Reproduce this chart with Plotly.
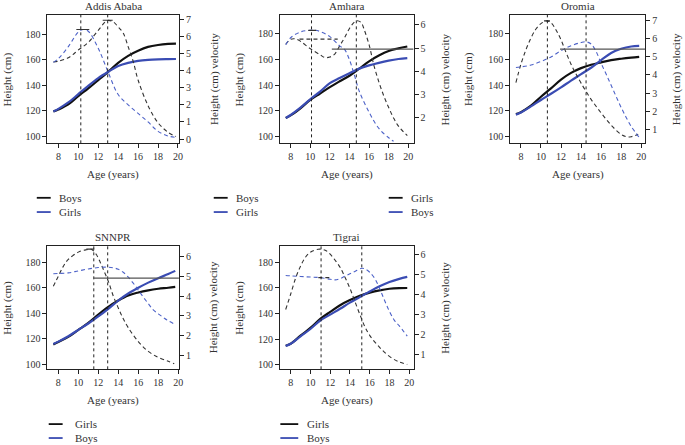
import plotly.graph_objects as go

W, H = 685, 445
FONT = "Liberation Serif"
BLACK = "#111111"
BLUE = "#3a4cb3"
BLUE_D = "#4d62c8"
GRAY_D = "#333333"
TXT = "#333333"

# ---------------- data ----------------
titles = ["Addis Ababa", "Amhara", "Oromia", "SNNPR", "Tigrai"]

# Addis Ababa (black = Boys, blue = Girls)
addis_h_age = [7.5, 8, 9, 10, 11, 12, 13, 14, 15, 16, 17, 18, 19, 19.8]
addis_black_h = [119.5, 121, 125, 131.5, 137.5, 144, 150.5, 157.5, 163, 167, 170, 171.5, 172.3, 172.5]
addis_blue_h = [119.5, 121.5, 126.5, 133, 139.5, 145.5, 150.5, 155, 157.5, 159, 159.8, 160.2, 160.4, 160.5]
addis_blue_v_age = [7.5, 8, 9, 10, 10.5, 11, 12, 13, 14, 15, 16, 17, 18, 19, 19.8]
addis_blue_v = [4.48, 4.7, 5.4, 6.25, 6.4, 6.3, 5.3, 3.9, 2.6, 2.0, 1.5, 1.0, 0.45, 0.18, 0.1]
addis_black_v_age = [7.5, 8, 9, 10, 11, 12, 12.9, 13.5, 14, 14.5, 15, 15.5, 16, 17, 18, 19, 19.8]
addis_black_v = [4.5, 4.55, 4.75, 5.2, 5.65, 6.35, 6.92, 6.85, 6.55, 6.2, 5.4, 4.55, 3.45, 1.95, 0.95, 0.4, 0.15]
addis_peaks = [10.25, 12.95]

# Amhara (black = Boys, blue = Girls)
amhara_h_age = [7.5, 8, 9, 10, 11, 12, 13, 14, 15, 16, 17, 18, 19, 19.9]
amhara_black_h = [114.5, 116.5, 122, 128.5, 133.5, 138.5, 143, 147.3, 152.8, 158.5, 163, 166.5, 168.5, 170]
amhara_blue_h = [114.5, 116.8, 122.5, 129, 135, 141.5, 145.5, 149.3, 152.8, 155.3, 157.3, 159, 160.3, 161]
amhara_blue_v_age = [7.5, 8, 9, 10, 10.5, 11, 12, 13, 13.5, 14, 14.5, 15, 16, 17, 18, 18.5]
amhara_blue_v = [5.15, 5.45, 5.7, 5.77, 5.77, 5.72, 5.5, 5.1, 4.95, 4.5, 3.85, 3.15, 2.25, 1.55, 1.15, 1.0]
amhara_black_v_age = [7.5, 8, 8.5, 9, 10, 11, 11.5, 12, 12.5, 13, 13.5, 14, 14.5, 14.8, 15.2, 15.5, 16, 16.5, 17, 17.5, 18, 18.5, 19, 19.9]
amhara_black_v = [5.17, 5.38, 5.4, 5.3, 4.98, 4.72, 4.6, 4.62, 4.75, 5.1, 5.45, 5.85, 6.12, 6.18, 6.1, 5.8, 5.15, 4.25, 3.55, 2.95, 2.45, 2.0, 1.65, 1.24]
amhara_peaks = [10.13, 14.7]

# Oromia (black = Girls, blue = Boys)
oromia_h_age = [7.5, 8, 9, 10, 11, 12, 13, 14, 15, 16, 17, 18, 19, 19.8]
oromia_black_h = [117.5, 119, 124, 131, 137.5, 144.3, 149.5, 153.2, 155.8, 157.7, 159.4, 160.5, 161.4, 162]
oromia_blue_h = [117, 118.7, 123.5, 128.5, 133.3, 138.3, 143.5, 148.5, 153.5, 159.4, 165, 168.2, 170, 170.5]
oromia_black_v_age = [7.5, 8, 8.5, 9, 9.5, 10, 10.6, 11, 11.5, 12, 12.5, 13, 13.5, 14, 15, 16, 17, 18, 18.5, 19, 19.7]
oromia_black_v = [3.58, 4.6, 5.4, 6.05, 6.55, 6.85, 7.0, 6.9, 6.5, 5.95, 5.25, 4.6, 4.05, 3.55, 2.65, 1.9, 1.22, 0.7, 0.58, 0.58, 0.72]
oromia_blue_v_age = [7.5, 8, 9, 10, 11, 12, 13, 14, 14.5, 15, 15.5, 16, 16.5, 17, 17.5, 18, 18.5, 19, 19.8]
oromia_blue_v = [4.42, 4.45, 4.55, 4.75, 5.0, 5.35, 5.62, 5.8, 5.84, 5.72, 5.3, 4.65, 4.05, 3.43, 2.81, 2.2, 1.65, 1.15, 0.54]
oromia_peaks = [10.64, 14.5]

# SNNPR (black = Girls, blue = Boys)
snnpr_h_age = [7.5, 8, 9, 10, 11, 12, 13, 14, 15, 16, 17, 18, 19, 19.7]
snnpr_black_h = [115.6, 117.5, 121.5, 127, 132.5, 139, 145, 150, 154, 156.3, 158, 159.2, 160, 160.7]
snnpr_blue_h = [116, 117.8, 122, 127, 132, 137.5, 143.5, 150, 155.5, 160, 164, 167.5, 170.7, 173.2]
snnpr_black_v_age = [7.5, 8, 8.5, 9, 10, 10.8, 11.3, 11.8, 12.2, 12.5, 13, 13.5, 14, 14.5, 15, 16, 17, 18, 19, 19.6]
snnpr_black_v = [4.49, 5.0, 5.5, 5.85, 6.22, 6.34, 6.37, 6.1, 5.7, 5.35, 4.75, 4.0, 3.4, 2.85, 2.4, 1.7, 1.2, 0.9, 0.7, 0.58]
snnpr_blue_v_age = [7.5, 8, 9, 10, 11, 12, 12.8, 13.5, 14, 14.5, 15, 15.5, 16, 16.5, 17, 17.5, 18, 18.5, 19, 19.6]
snnpr_blue_v = [5.13, 5.14, 5.17, 5.27, 5.37, 5.44, 5.46, 5.43, 5.35, 5.2, 4.95, 4.65, 4.3, 3.95, 3.62, 3.3, 3.1, 2.92, 2.75, 2.59]
snnpr_peaks = [11.55, 12.94]

# Tigrai (black = Girls, blue = Boys)
tigrai_h_age = [7.5, 8, 9, 10, 11, 12, 13, 14, 15, 16, 17, 18, 19, 19.8]
tigrai_black_h = [115, 116.5, 122.8, 128.8, 135.8, 141.3, 146.5, 150.5, 153.8, 156.3, 158.1, 159.3, 159.8, 159.9]
tigrai_blue_h = [114.7, 116.5, 122.3, 128, 134.6, 139.2, 143.7, 148.5, 152.8, 157.2, 161.3, 164.6, 167, 168.5]
tigrai_black_v_age = [7.5, 8, 8.5, 9, 9.5, 10, 10.8, 11.5, 12, 12.5, 13, 13.5, 14, 14.5, 15, 15.5, 16, 17, 18, 19, 19.8]
tigrai_black_v = [3.24, 4.0, 4.8, 5.4, 5.85, 6.1, 6.25, 6.2, 6.0, 5.7, 5.35, 4.85, 4.3, 3.65, 3.0, 2.4, 1.95, 1.35, 0.9, 0.62, 0.5]
tigrai_blue_v_age = [7.5, 8, 9, 10, 11, 12, 12.5, 13, 13.5, 14, 14.5, 15.2, 15.6, 16, 16.5, 17, 17.5, 18, 18.5, 19, 19.8]
tigrai_blue_v = [4.94, 4.92, 4.89, 4.86, 4.83, 4.75, 4.72, 4.78, 4.9, 5.02, 5.14, 5.3, 5.25, 5.1, 4.8, 4.3, 3.7, 3.15, 2.7, 2.42, 1.91]
tigrai_peaks = [11.08, 15.2]

# horizontal reference line (start age, velocity level) or None
ref_lines = [None, (12.2, 4.96), (11.9, 5.43), (11.55, 4.91), None]
# short solid segments at velocity peaks: (age from, age to, velocity)
peak_marks = [[(9.8, 11.1, 6.4), (12.45, 13.45, 6.94)], [(9.8, 10.6, 5.77)], [(10.3, 10.9, 7.0)], [(10.8, 11.6, 6.37)], []]
# short dashed segments (age from, age to, velocity)
dash_marks = [[], [(8.9, 12.8, 5.39)], [], [], [(10.8, 12.0, 4.83)]]

legend_labels = [("Boys", "Girls"), ("Boys", "Girls"), ("Girls", "Boys"), ("Girls", "Boys"), ("Girls", "Boys")]

height_ticks = [100, 120, 140, 160, 180]
age_ticks = [8, 10, 12, 14, 16, 18, 20]
vel_ticks = [[0, 1, 2, 3, 4, 5, 6, 7], [2, 3, 4, 5, 6], [1, 2, 3, 4, 5, 6, 7], [1, 2, 3, 4, 5, 6], [1, 2, 3, 4, 5, 6]]

# ---------------- layout geometry (pixels) ----------------
boxes = [(47.7, 180, 14, 143), (281.7, 416, 14, 143), (513.3, 649, 14, 143),
         (47.7, 180, 245.7, 370), (281.7, 416, 245.7, 370)]
x_ranges = [[6.9, 20.1], [6.92, 20.54], [6.94, 20.4], [6.91, 20.07], [6.93, 20.44]]
y_ranges = [[94.5, 195], [94.8, 194.5], [94.8, 194.5], [96.1, 193], [96.6, 192.9]]
v_ranges = [[-0.25, 7.25], [0.91, 6.43], [0.21, 7.33], [0.295, 6.55], [0.255, 6.43]]
left_title_x = [7.3, 240.7, 470.7, 7.3, 240.7]
right_title_x = [215, 448, 680, 215, 448]
legend_geo = [(37, 51, 57, 197.7, 212), (215, 229, 235, 197.7, 212), (391, 405, 411, 197.7, 212),
              (49, 63, 73, 425, 439), (282, 300, 307, 425, 439)]


def fx(px):
    return px / W


def fy(py):
    return 1 - py / H


panels = [
    (addis_h_age, addis_black_h, addis_blue_h, addis_black_v_age, addis_black_v, addis_blue_v_age, addis_blue_v, addis_peaks),
    (amhara_h_age, amhara_black_h, amhara_blue_h, amhara_black_v_age, amhara_black_v, amhara_blue_v_age, amhara_blue_v, amhara_peaks),
    (oromia_h_age, oromia_black_h, oromia_blue_h, oromia_black_v_age, oromia_black_v, oromia_blue_v_age, oromia_blue_v, oromia_peaks),
    (snnpr_h_age, snnpr_black_h, snnpr_blue_h, snnpr_black_v_age, snnpr_black_v, snnpr_blue_v_age, snnpr_blue_v, snnpr_peaks),
    (tigrai_h_age, tigrai_black_h, tigrai_blue_h, tigrai_black_v_age, tigrai_black_v, tigrai_blue_v_age, tigrai_blue_v, tigrai_peaks),
]

fig = go.Figure()
shapes = []
annotations = []
layout = dict(width=W, height=H, autosize=False, margin=dict(l=0, r=0, t=0, b=0),
              paper_bgcolor="white", plot_bgcolor="white", showlegend=False,
              font=dict(family=FONT, size=10, color=TXT))

tickfont = dict(family=FONT, size=10, color=TXT)

for i, p in enumerate(panels):
    n = i + 1
    xs = "x" if n == 1 else f"x{n}"
    yl = "y" if n == 1 else f"y{n}"
    yr = f"y{n + 5}"
    h_age, bh, blh, bv_age, bv, blv_age, blv, peaks = p
    x0, x1, y0, y1 = boxes[i]

    # velocity curves (dashed) on right axis
    fig.add_trace(go.Scatter(x=bv_age, y=bv, xaxis=xs, yaxis=yr, mode="lines",
                             line=dict(color=GRAY_D, width=1.1, dash="4px,3px", shape="spline")))
    fig.add_trace(go.Scatter(x=blv_age, y=blv, xaxis=xs, yaxis=yr, mode="lines",
                             line=dict(color=BLUE_D, width=1.1, dash="4px,3px", shape="spline")))
    # height curves (solid) on left axis
    fig.add_trace(go.Scatter(x=h_age, y=bh, xaxis=xs, yaxis=yl, mode="lines",
                             line=dict(color=BLACK, width=2.2, shape="spline")))
    fig.add_trace(go.Scatter(x=h_age, y=blh, xaxis=xs, yaxis=yl, mode="lines",
                             line=dict(color=BLUE, width=2.2, shape="spline")))

    for a0, a1, v in peak_marks[i]:
        fig.add_trace(go.Scatter(x=[a0, a1], y=[v, v], xaxis=xs, yaxis=yr, mode="lines",
                                 line=dict(color="#333", width=1.2)))
    for a0, a1, v in dash_marks[i]:
        fig.add_trace(go.Scatter(x=[a0, a1], y=[v, v], xaxis=xs, yaxis=yr, mode="lines",
                                 line=dict(color=GRAY_D, width=1.1, dash="4px,3px")))

    for pk in peaks:
        shapes.append(dict(type="line", xref=xs, yref=f"{yl} domain", x0=pk, x1=pk, y0=0, y1=1,
                           line=dict(color="#222", width=1, dash="dot")))
    if ref_lines[i] is not None:
        a0, v = ref_lines[i]
        shapes.append(dict(type="line", xref=xs, yref=yr, x0=a0, x1=x_ranges[i][1], y0=v, y1=v,
                           line=dict(color="#555", width=1.2)))

    xkey = "xaxis" if n == 1 else f"xaxis{n}"
    ykey = "yaxis" if n == 1 else f"yaxis{n}"
    rkey = f"yaxis{n + 5}"
    layout[xkey] = dict(domain=[fx(x0), fx(x1)], anchor=yl, range=x_ranges[i], tickvals=age_ticks,
                        showline=True, linecolor="#222", linewidth=1, mirror=True,
                        ticks="outside", ticklen=4, tickcolor="#222", showgrid=False, zeroline=False,
                        tickfont=tickfont)
    layout[ykey] = dict(domain=[fy(y1), fy(y0)], anchor=xs, range=y_ranges[i], tickvals=height_ticks,
                        showline=True, linecolor="#222", linewidth=1, mirror=True,
                        ticks="outside", ticklen=4, tickcolor="#222", showgrid=False, zeroline=False,
                        tickfont=tickfont)
    layout[rkey] = dict(overlaying=yl, side="right", anchor=xs, range=v_ranges[i], tickvals=vel_ticks[i],
                        showline=True, linecolor="#222", linewidth=1,
                        ticks="outside", ticklen=4, tickcolor="#222", showgrid=False, zeroline=False,
                        tickfont=tickfont)

    cx = (x0 + x1) / 2
    cy = (y0 + y1) / 2
    annotations.append(dict(text=titles[i], x=fx(cx), y=fy(y0 - 9), xref="paper", yref="paper",
                            showarrow=False, font=dict(family=FONT, size=11, color=TXT),
                            xanchor="center", yanchor="middle"))
    annotations.append(dict(text="Age (years)", x=fx(cx), y=fy(y1 + 31), xref="paper", yref="paper",
                            showarrow=False, font=dict(family=FONT, size=11, color=TXT),
                            xanchor="center", yanchor="middle"))
    annotations.append(dict(text="Height (cm)", x=fx(left_title_x[i]), y=fy(cy), xref="paper", yref="paper",
                            showarrow=False, textangle=-90, font=dict(family=FONT, size=11, color=TXT),
                            xanchor="center", yanchor="middle"))
    annotations.append(dict(text="Height (cm) velocity", x=fx(right_title_x[i]), y=fy(cy), xref="paper",
                            yref="paper", showarrow=False, textangle=-90,
                            font=dict(family=FONT, size=11, color=TXT),
                            xanchor="center", yanchor="middle"))

    lx0, lx1, tx, ly1, ly2 = legend_geo[i]
    for ly, col, lab in [(ly1, BLACK, legend_labels[i][0]), (ly2, BLUE, legend_labels[i][1])]:
        shapes.append(dict(type="line", xref="paper", yref="paper", x0=fx(lx0), x1=fx(lx1),
                           y0=fy(ly), y1=fy(ly), layer="above",
                           line=dict(color=col, width=1.8, dash="solid")))
        annotations.append(dict(text=lab, x=fx(tx), y=fy(ly), xref="paper", yref="paper",
                                showarrow=False, font=dict(family=FONT, size=11, color=TXT),
                                xanchor="left", yanchor="middle"))

layout["shapes"] = shapes
layout["annotations"] = annotations
fig.update_layout(**layout)
fig.write_html("out.html")
